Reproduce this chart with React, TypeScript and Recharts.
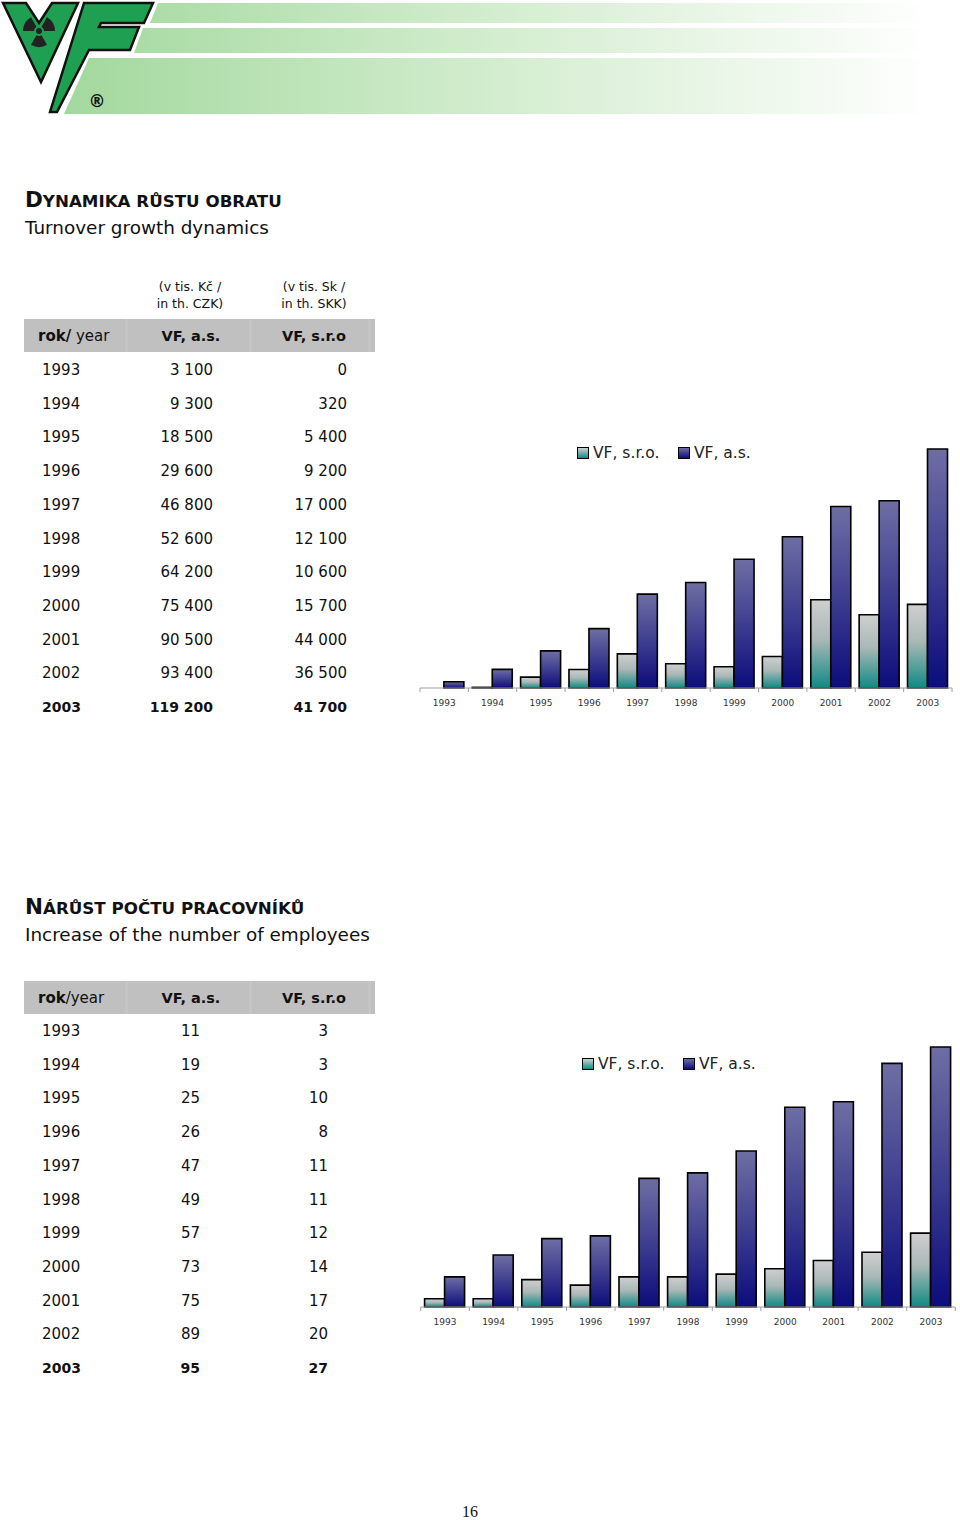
import React from 'react';
import { BarChart, Bar, XAxis, YAxis } from 'recharts';

const years = ['1993', '1994', '1995', '1996', '1997', '1998', '1999', '2000', '2001', '2002', '2003'];
const turnoverAs = [3100, 9300, 18500, 29600, 46800, 52600, 64200, 75400, 90500, 93400, 119200];
const turnoverSro = [0, 320, 5400, 9200, 17000, 12100, 10600, 15700, 44000, 36500, 41700];
const employeesAs = [11, 19, 25, 26, 47, 49, 57, 73, 75, 89, 95];
const employeesSro = [3, 3, 10, 8, 11, 11, 12, 14, 17, 20, 27];
const seriesNames = ['VF, s.r.o.', 'VF, a.s.'];

const FONT = '"DejaVu Sans", sans-serif';

const fmt = (n: number) => String(n).replace(/\B(?=(\d{3})+(?!\d))/g, ' ');

const buildData = (as: number[], sro: number[]) =>
  years.map((y, i) => ({ year: y, sro: sro[i], as: as[i] }));

const turnoverData = buildData(turnoverAs, turnoverSro);
const employeesData = buildData(employeesAs, employeesSro);

type ChartProps = {
  id: string;
  data: any[];
  left: number;
  top: number;
  width: number;
  height: number;
  margin: { top: number; right: number; bottom: number; left: number };
  max: number;
};

const GroupChart = ({ id, data, left, top, width, height, margin, max }: ChartProps) => {
  const plotW = width - margin.left - margin.right;
  const step = plotW / data.length;
  const renderTick = (props: any) => {
    const { x, y, payload, index } = props;
    return (
      <g>
        <line x1={x - step / 2} x2={x - step / 2} y1={y} y2={y + 4} stroke="#a0a0a0" strokeWidth={1} />
        {index === data.length - 1 && (
          <line x1={x + step / 2} x2={x + step / 2} y1={y} y2={y + 4} stroke="#a0a0a0" strokeWidth={1} />
        )}
        <text
          x={x}
          y={y + 15}
          textAnchor="middle"
          dominantBaseline="central"
          fontSize={9}
          fill="#333"
          fontFamily={FONT}
        >
          {payload.value}
        </text>
      </g>
    );
  };
  return (
    <div style={{ position: 'absolute', left, top, width, height }}>
      <BarChart width={width} height={height} data={data} margin={margin} barGap={0} barCategoryGap="8%">
        <defs>
          <linearGradient id={`${id}-sro`} x1="0" y1="0" x2="0" y2="1">
            <stop offset="0%" stopColor="#cfcfcf" />
            <stop offset="45%" stopColor="#a9b8b6" />
            <stop offset="100%" stopColor="#0e8a84" />
          </linearGradient>
          <linearGradient id={`${id}-as`} x1="0" y1="0" x2="0" y2="1">
            <stop offset="0%" stopColor="#6e6ea4" />
            <stop offset="50%" stopColor="#3e3e90" />
            <stop offset="100%" stopColor="#0c0c7c" />
          </linearGradient>
        </defs>
        <XAxis
          dataKey="year"
          height={24}
          axisLine={{ stroke: '#a0a0a0', strokeWidth: 1 }}
          tickLine={false}
          tickSize={0}
          tickMargin={0}
          interval={0}
          tick={renderTick}
        />
        <YAxis hide domain={[0, max]} />
        <Bar dataKey="sro" fill={`url(#${id}-sro)`} stroke="#000" strokeWidth={1.6} isAnimationActive={false} />
        <Bar dataKey="as" fill={`url(#${id}-as)`} stroke="#000" strokeWidth={1.6} isAnimationActive={false} />
      </BarChart>
    </div>
  );
};

const LegendBox = ({ x, y, grad }: { x: number; y: number; grad: string }) => (
  <div
    style={{
      position: 'absolute',
      left: x,
      top: y,
      width: 10,
      height: 10,
      border: '1.5px solid #000',
      background: grad,
    }}
  />
);

const sroGrad = 'linear-gradient(#cfcfcf, #0e8a84)';
const asGrad = 'linear-gradient(#6e6ea4, #0c0c7c)';

const ChartLegend = ({ x1, x2, cy }: { x1: number; x2: number; cy: number }) => (
  <>
    <LegendBox x={x1} y={cy - 6.5} grad={sroGrad} />
    <div style={{ position: 'absolute', left: x1 + 16, top: cy - 10, lineHeight: '20px', fontSize: 15.5, fontFamily: FONT, color: '#222', whiteSpace: 'nowrap' }}>
      {seriesNames[0]}
    </div>
    <LegendBox x={x2} y={cy - 6.5} grad={asGrad} />
    <div style={{ position: 'absolute', left: x2 + 16, top: cy - 10, lineHeight: '20px', fontSize: 15.5, fontFamily: FONT, color: '#222', whiteSpace: 'nowrap' }}>
      {seriesNames[1]}
    </div>
  </>
);

const T = ({ x, cy, children, align = 'left', size = 15, bold = false, w = 200 }: any) => {
  let left = x;
  if (align === 'right') left = x - w;
  if (align === 'center') left = x - w / 2;
  return (
    <div
      style={{
        position: 'absolute',
        left,
        top: cy - 12,
        width: w,
        lineHeight: '24px',
        height: 24,
        textAlign: align,
        fontSize: size,
        fontWeight: bold ? 'bold' : 'normal',
        fontFamily: FONT,
        color: '#111',
        whiteSpace: 'nowrap',
      }}
    >
      {children}
    </div>
  );
};

type TableProps = {
  bandTop: number;
  firstRow: number;
  yearLabel: React.ReactNode;
  colA: string[];
  colB: string[];
  colAX: number;
  colBX: number;
};

const ROW_STEP = 33.7;

const DataTable = ({ bandTop, firstRow, yearLabel, colA, colB, colAX, colBX }: TableProps) => (
  <>
    <div style={{ position: 'absolute', left: 24, top: bandTop, width: 351, height: 33, background: '#c0c0c0' }} />
    <div style={{ position: 'absolute', left: 125, top: bandTop, width: 3, height: 33, background: '#c5c5c5' }} />
    <div style={{ position: 'absolute', left: 249, top: bandTop, width: 3, height: 33, background: '#c5c5c5' }} />
    <div style={{ position: 'absolute', left: 368, top: bandTop, width: 3, height: 33, background: '#c5c5c5' }} />
    <T x={38} cy={bandTop + 17} size={15}>{yearLabel}</T>
    <T x={191} cy={bandTop + 17} align="center" bold size={14.5}>VF, a.s.</T>
    <T x={314} cy={bandTop + 17} align="center" bold size={14.5}>VF, s.r.o</T>
    {years.map((y, i) => {
      const last = i === years.length - 1;
      const cy = firstRow + i * ROW_STEP;
      const size = last ? 14 : 15;
      return (
        <React.Fragment key={y}>
          <T x={42} cy={cy} bold={last} size={size}>{y}</T>
          <T x={colAX} cy={cy} align="right" bold={last} size={size}>{colA[i]}</T>
          <T x={colBX} cy={cy} align="right" bold={last} size={size}>{colB[i]}</T>
        </React.Fragment>
      );
    })}
  </>
);

const Title = ({ cy, first, rest, sub }: { cy: number; first: string; rest: string; sub: string }) => (
  <>
    <div style={{ position: 'absolute', left: 25, top: cy - 14, lineHeight: '28px', fontFamily: FONT, fontWeight: 'bold', color: '#111', whiteSpace: 'nowrap' }}>
      <span style={{ fontSize: 21.5 }}>{first}</span>
      <span style={{ fontSize: 16.7 }}>{rest}</span>
    </div>
    <div style={{ position: 'absolute', left: 25, top: cy + 28 - 14, lineHeight: '28px', fontFamily: FONT, fontSize: 18.4, color: '#111', whiteSpace: 'nowrap' }}>
      {sub}
    </div>
  </>
);

const trefoilBlade = (cx: number, cy: number, r1: number, r2: number, a: number) => {
  const rad = (d: number) => (d * Math.PI) / 180;
  const a1 = rad(a - 30);
  const a2 = rad(a + 30);
  const p = (r: number, t: number) => `${cx + r * Math.cos(t)},${cy + r * Math.sin(t)}`;
  return `M${p(r1, a1)} L${p(r2, a1)} A${r2},${r2} 0 0 1 ${p(r2, a2)} L${p(r1, a2)} A${r1},${r1} 0 0 0 ${p(r1, a1)} Z`;
};

const Logo = () => (
  <svg width={960} height={120} style={{ position: 'absolute', left: 0, top: 0 }}>
    <defs>
      <linearGradient id="stripe" gradientUnits="userSpaceOnUse" x1="60" y1="0" x2="935" y2="0">
        <stop offset="0%" stopColor="#a2d89d" />
        <stop offset="55%" stopColor="#d8efd4" />
        <stop offset="100%" stopColor="#ffffff" />
      </linearGradient>
    </defs>
    <polygon points="158,3 960,3 960,23 150,23" fill="url(#stripe)" />
    <polygon points="143,28 960,28 960,53 134,53" fill="url(#stripe)" />
    <polygon points="89,58 960,58 960,114 64,114" fill="url(#stripe)" />
    <polygon
      points="3,3 26,3 39,23 52,3 78,3 41,82"
      fill="#1f9f52"
      stroke="#111"
      strokeWidth={2.5}
      strokeLinejoin="miter"
    />
    <polygon
      points="84,3 153,3 144,23 101,23 99,27 139,27 130,50 89,50 57,112 50,112"
      fill="#1f9f52"
      stroke="#111"
      strokeWidth={2.5}
      strokeLinejoin="miter"
    />
    <path d={trefoilBlade(39, 31, 5, 16, 90)} fill="#222" />
    <path d={trefoilBlade(39, 31, 5, 16, 210)} fill="#222" />
    <path d={trefoilBlade(39, 31, 5, 16, 330)} fill="#222" />
    <circle cx={39} cy={31} r={3} fill="#222" />
    <text x={97} y={101} textAnchor="middle" dominantBaseline="central" fontSize={17} fontWeight="bold" fontFamily={FONT} fill="#111">
      ®
    </text>
  </svg>
);

export default function App() {
  return (
    <div style={{ position: 'absolute', left: 0, top: 0, width: 960, height: 1520, background: '#fff', overflow: 'hidden' }}>
      <Logo />

      <Title cy={200} first="D" rest="YNAMIKA RŮSTU OBRATU" sub="Turnover growth dynamics" />

      <T x={190} cy={287} align="center" size={12.5}>(v tis. Kč /</T>
      <T x={190} cy={304} align="center" size={12.5}>in th. CZK)</T>
      <T x={314} cy={287} align="center" size={12.5}>(v tis. Sk /</T>
      <T x={314} cy={304} align="center" size={12.5}>in th. SKK)</T>

      <DataTable
        bandTop={319}
        firstRow={370}
        yearLabel={<><b>rok/</b> year</>}
        colA={turnoverAs.map(fmt)}
        colB={turnoverSro.map(fmt)}
        colAX={213}
        colBX={347}
      />

      <ChartLegend x1={577} x2={678} cy={453} />
      <GroupChart
        id="turnover"
        data={turnoverData}
        left={400}
        top={420}
        width={560}
        height={300}
        margin={{ top: 27.4, right: 8, bottom: 8, left: 20 }}
        max={120000}
      />

      <Title cy={907} first="N" rest="ÁRŮST POČTU PRACOVNÍKŮ" sub="Increase of the number of employees" />

      <DataTable
        bandTop={981}
        firstRow={1031}
        yearLabel={<><b>rok</b>/year</>}
        colA={employeesAs.map(fmt)}
        colB={employeesSro.map(fmt)}
        colAX={200}
        colBX={328}
      />

      <ChartLegend x1={582} x2={683} cy={1064} />
      <GroupChart
        id="employees"
        data={employeesData}
        left={400}
        top={1010}
        width={560}
        height={330}
        margin={{ top: 23.3, right: 4.7, bottom: 9, left: 20.7 }}
        max={100}
      />

      <div style={{ position: 'absolute', left: 450, top: 1503, width: 40, height: 17, textAlign: 'center', lineHeight: '17px', fontSize: 16, fontFamily: '"Liberation Serif", serif', color: '#111' }}>
        16
      </div>
    </div>
  );
}
